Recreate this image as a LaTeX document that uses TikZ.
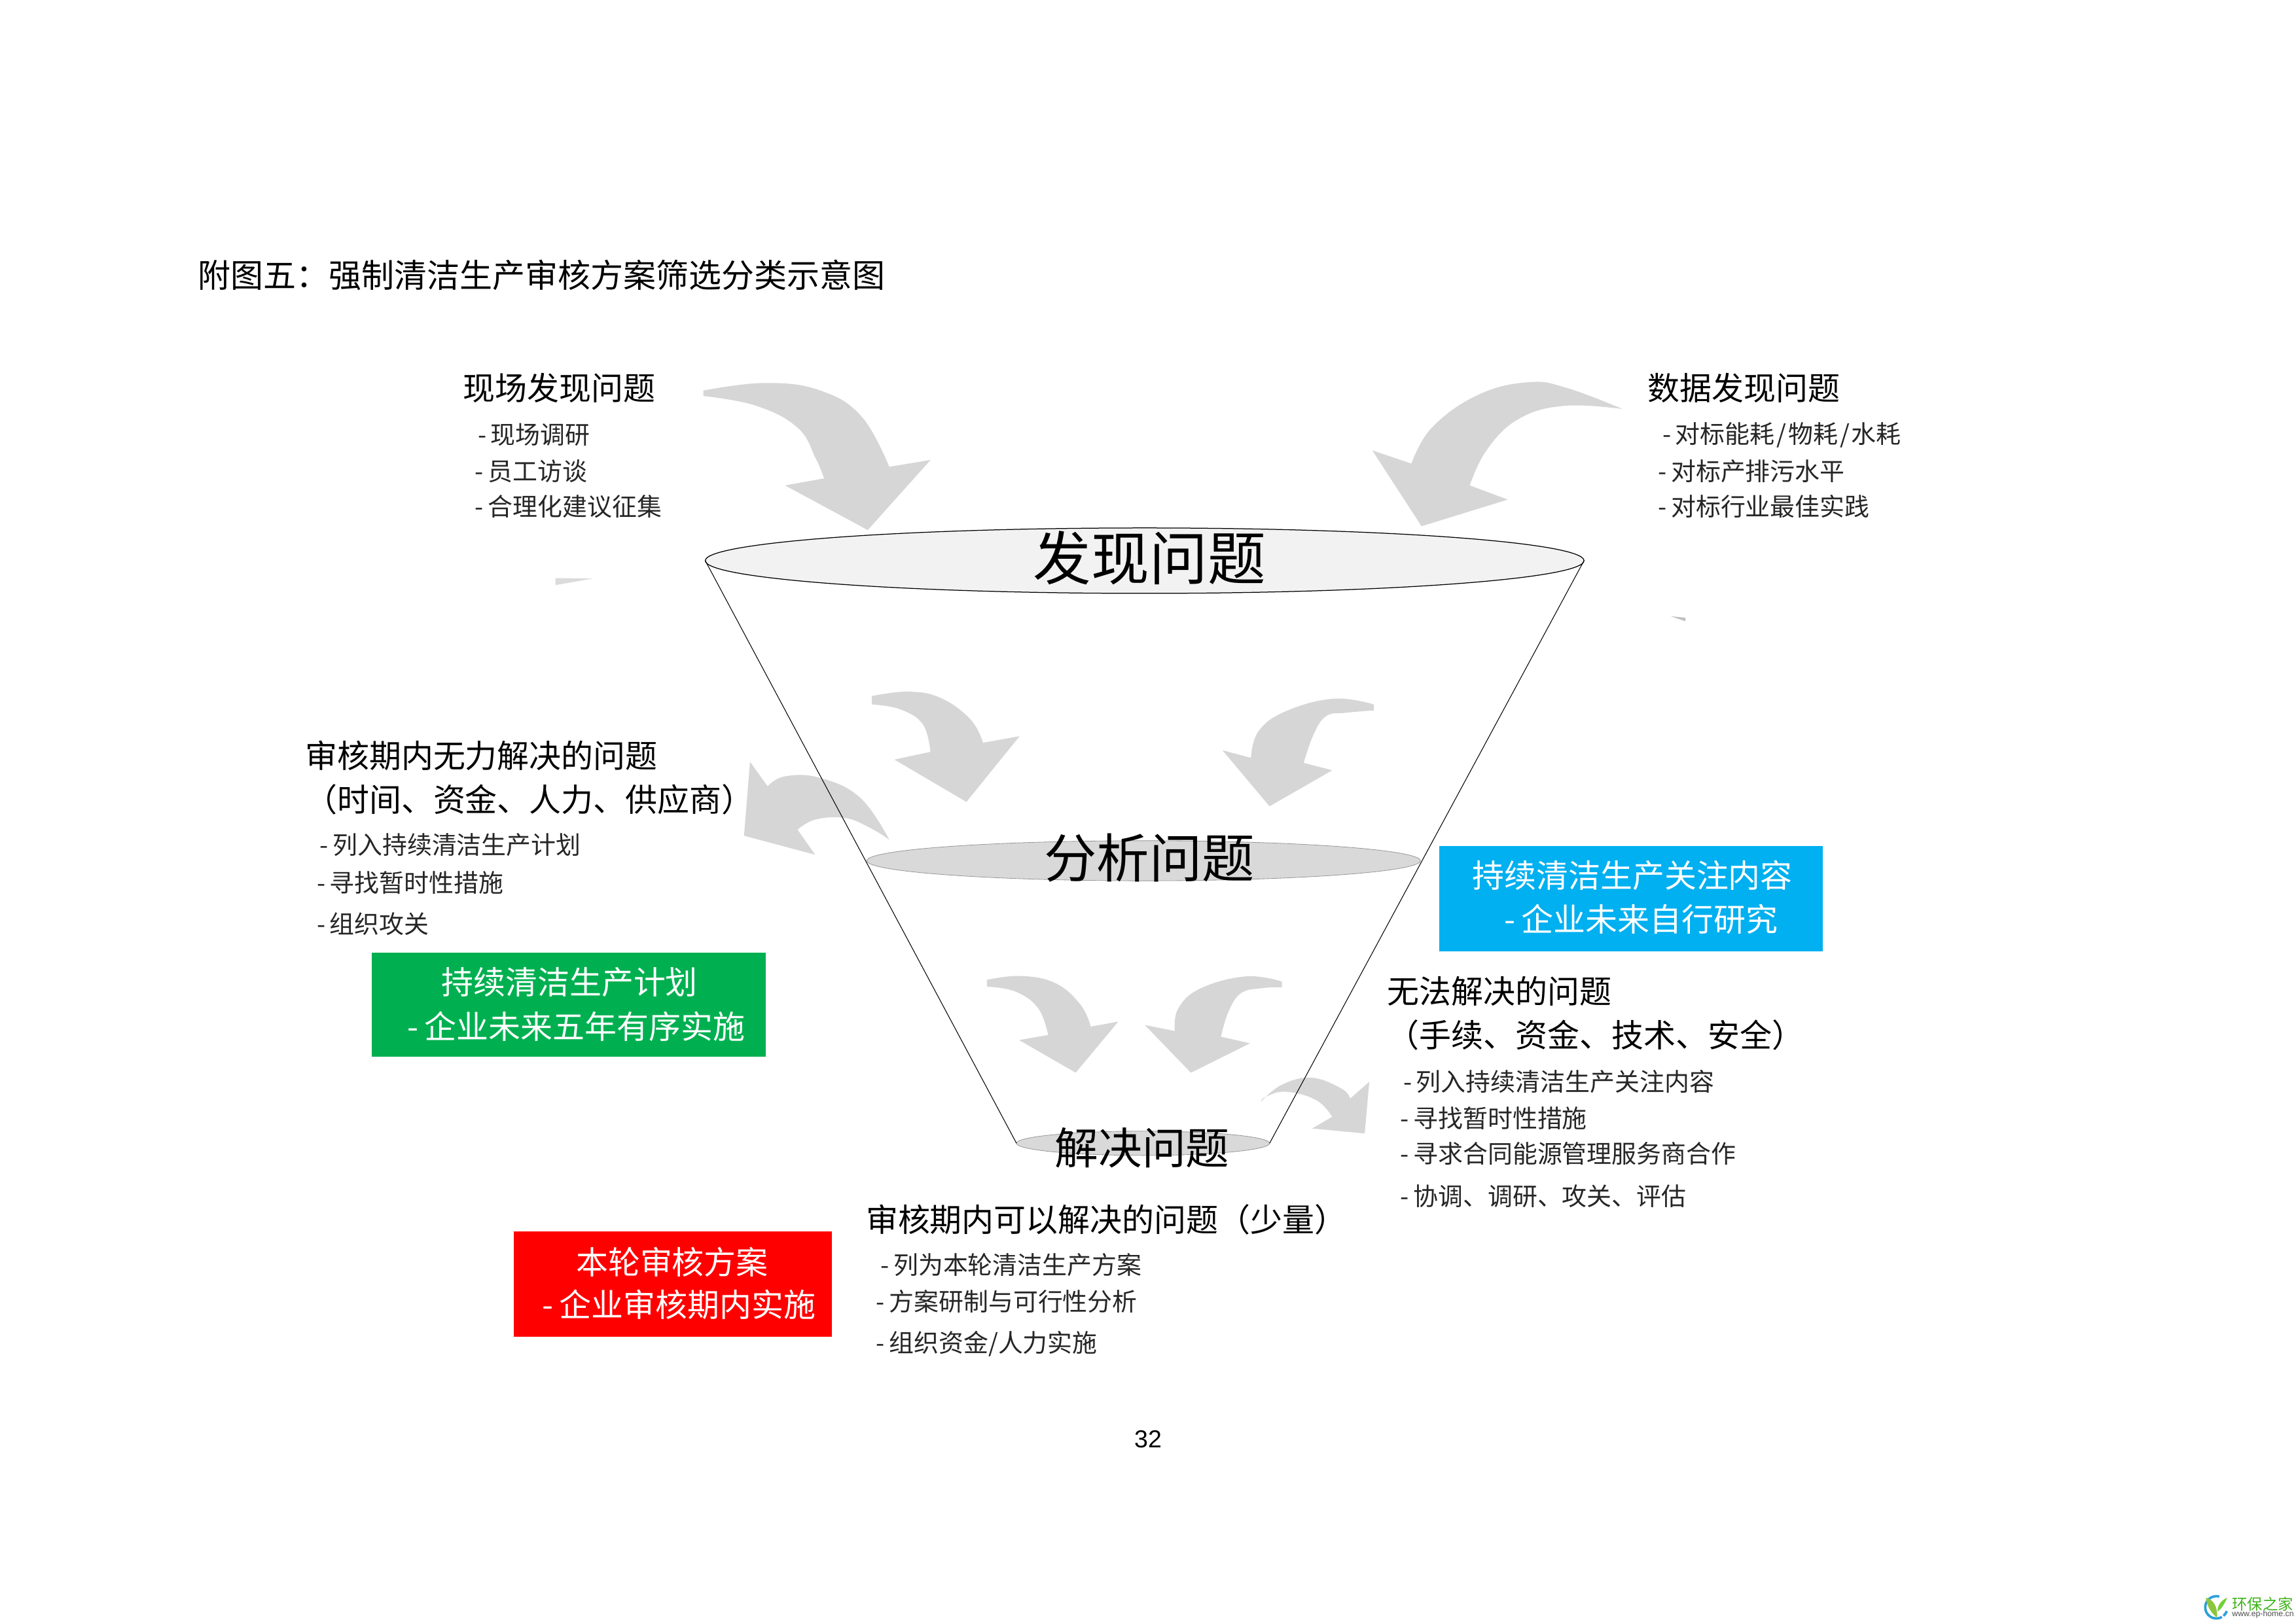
\documentclass[tikz,border=0pt]{standalone}
\usepackage{fontspec}
\setmainfont{Noto Sans CJK SC}
\newfontfamily\latinfont{Liberation Sans}
\usetikzlibrary{shapes.geometric}
\definecolor{arrowgray}{HTML}{D6D6D6}
\definecolor{boxblue}{HTML}{00B0F0}
\definecolor{boxgreen}{HTML}{00B050}
\definecolor{boxred}{HTML}{FF0000}
\definecolor{logogreen}{HTML}{3DB219}
\definecolor{logoblue}{HTML}{2E9FD8}
\definecolor{leafgreen}{HTML}{8CC63F}
\newcommand{\subdash}{-\kern1.6pt}
\newcommand{\boxdash}{-\kern2.2pt}
\tikzset{
  x=0.5369pt, y=-0.5369pt,
  txt/.style={anchor=west,inner sep=0pt,text=black},
  headtxt/.style={txt,font=\fontsize{11.75}{14}\selectfont},
  subtxt/.style={txt,font=\fontsize{9.1}{11}\selectfont,text=black!85},
  bigtxt/.style={anchor=center,inner sep=0pt,text=black},
  boxtxt/.style={anchor=west,inner sep=0pt,text=white,font=\fontsize{11.75}{14}\selectfont},
  curvearrow/.style={fill=arrowgray,draw=none},
  disc/.style={shape=ellipse,inner sep=0pt,outer sep=0pt},
  funnelside/.style={draw=black,line width=0.25pt},
}
\begin{document}
\begin{tikzpicture}
\useasboundingbox (0,0) rectangle (1568,1109);

% faint stray wedges
\fill[black!14] (379.3,394.9) -- (379.3,399.7) -- (405,395.2) -- cycle;
\fill[black!25] (1141,421) -- (1151,422) -- (1151,424.4) -- cycle;

% curved arrows
\fill[curvearrow] plot[smooth,tension=.7] coordinates {(480.3,266.8) (522.6,261.6) (560.3,266.8) (588.5,284.7) (607.3,318.9)} -- (635.5,314.2) -- (592.6,362.1) -- (536.1,331.6) -- (562.8,326.8) -- plot[smooth,tension=.7] coordinates {(562.8,326.8) (557,313) (544.6,292.1) (516.4,277.2) (480.3,270.5)} -- cycle;
\fill[curvearrow] plot[smooth,tension=.7] coordinates {(1108.1,279.4) (1070,265) (1043.8,261.1) (1009.3,269.8) (978,292) (963.9,316.7)} -- (937.2,307.7) -- (970.8,359.5) -- (1029.7,341.3) -- (1003.7,331.6) -- plot[smooth,tension=.7] coordinates {(1003.7,331.6) (1015.6,307) (1037.5,286) (1068.9,277.2) (1108.1,279.4)} -- cycle;
\fill[curvearrow] plot[smooth,tension=.7] coordinates {(595.4,475.5) (620,472.5) (642.2,476.7) (662.8,491.5) (671.3,507.4)} -- (696.3,502.9) -- (660,547.8) -- (610.8,518.9) -- (635.4,513.6) -- plot[smooth,tension=.7] coordinates {(635.4,513.6) (630.3,494.9) (614.9,484.6) (595.4,481.2)} -- cycle;
\fill[curvearrow] plot[smooth,tension=.7] coordinates {(938.2,481.2) (910.8,477.3) (878.3,485.8) (859.5,499.5) (854.3,517.7)} -- (834.8,512.5) -- (867,550.8) -- (909.8,526.2) -- (890.3,521.1) -- plot[smooth,tension=.7] coordinates {(890.3,521.1) (897.1,501.7) (905.7,489.2) (919.3,486.9) (938.2,485.3)} -- cycle;
\fill[curvearrow] plot[smooth,tension=.7] coordinates {(607.3,573.6) (587.5,545) (560.1,531.4) (536.2,530.3) (524.2,537.1)} -- (512.2,520.4) -- (508.1,570.9) -- (556.7,583.9) -- (544.7,566.8) -- plot[smooth,tension=.7] coordinates {(544.7,566.8) (556.7,559.9) (577.2,558.8) (594.3,565.6) (607.3,573.6)} -- cycle;
\fill[curvearrow] plot[smooth,tension=.7] coordinates {(674,669.4) (697,666.7) (720.9,671.7) (738,686.5) (744.9,701.3)} -- (763.7,697.9) -- (734.6,732.8) -- (696,710.5) -- (715.8,707) -- plot[smooth,tension=.7] coordinates {(715.8,707) (709,688.8) (693.5,677.4) (674,674)} -- cycle;
\fill[curvearrow] plot[smooth,tension=.7] coordinates {(875.5,670.5) (850.9,667) (820.1,675.1) (804.7,688.8) (802.3,704.3)} -- (781.8,700.2) -- (813.3,732.8) -- (853.7,712.7) -- (833.8,708.2) -- plot[smooth,tension=.7] coordinates {(833.8,708.2) (839,691) (847.5,678.5) (861.2,675.1) (875.5,674.4)} -- cycle;
\fill[curvearrow] plot[smooth,tension=.7] coordinates {(861.2,752.7) (874.9,741.3) (895.4,736.2) (915.9,743.5) (922.1,750.4)} -- (935.1,739) -- (932,774.3) -- (896.1,770.9) -- (909.8,762.9) -- plot[smooth,tension=.7] coordinates {(909.8,762.9) (898.8,751.5) (878.3,745.8) (864.6,749.2) (861.2,752.7)} -- cycle;

% funnel discs
\node[disc,fill=black!5,draw=black,line width=0.3pt,minimum width=322.2pt,minimum height=24pt] (discA) at (781.7,383) {};
\node[disc,fill=black!15,draw=black!40,line width=0.2pt,minimum width=203pt,minimum height=14.7pt] (discB) at (781,588) {};
\node[disc,fill=black!15,draw=black!40,line width=0.2pt,minimum width=92.8pt,minimum height=8.9pt] (discC) at (780.6,781) {};

% funnel sides
\draw[funnelside] (discA.west) -- (discC.west);
\draw[funnelside] (discA.east) -- (discC.east);

% disc captions
\node[bigtxt,font=\fontsize{21.3}{25}\selectfont] (capA) at (785,381) {发现问题};
\node[bigtxt,font=\fontsize{19.3}{23}\selectfont] (capB) at (785,586) {分析问题};
\node[bigtxt,font=\fontsize{16}{19}\selectfont] (capC) at (780,784) {解决问题};

% title and page number
\node[txt,font=\fontsize{12}{14}\selectfont] (title) at (135,188) {附图五：强制清洁生产审核方案筛选分类示意图};
\node[bigtxt,font=\latinfont\fontsize{9}{11}\selectfont] (page) at (784,983) {32};

% top left
\node[headtxt] (h1) at (316,265) {现场发现问题};
\node[subtxt] (s11) at (326,297) {\subdash 现场调研};
\node[subtxt] (s12) at (324,322) {\subdash 员工访谈};
\node[subtxt] (s13) at (324,346) {\subdash 合理化建议征集};

% top right
\node[headtxt] (h2) at (1125,265) {数据发现问题};
\node[subtxt] (s21) at (1135,297) {\subdash 对标能耗\kern0.7pt/\kern0.7pt物耗\kern0.7pt/\kern0.7pt水耗};
\node[subtxt] (s22) at (1132,322) {\subdash 对标产排污水平};
\node[subtxt] (s23) at (1132,346) {\subdash 对标行业最佳实践};

% left
\node[headtxt] (h3) at (208,516) {审核期内无力解决的问题};
\node[headtxt] (h3b) at (208,546) {（时间、资金、人力、供应商）};
\node[subtxt] (s31) at (218,577) {\subdash 列入持续清洁生产计划};
\node[subtxt] (s32) at (216,603) {\subdash 寻找暂时性措施};
\node[subtxt] (s33) at (216,631) {\subdash 组织攻关};

% green box
\fill[boxgreen] (254,651) rectangle (523,722);
\node[boxtxt] (g1) at (301,671) {持续清洁生产计划};
\node[boxtxt] (g2) at (278,701) {\boxdash 企业未来五年有序实施};

% blue box
\fill[boxblue] (983,578) rectangle (1245,650);
\node[boxtxt] (b1) at (1005,598) {持续清洁生产关注内容};
\node[boxtxt] (b2) at (1027,628) {\boxdash 企业未来自行研究};

% right
\node[headtxt] (h4) at (947,677) {无法解决的问题};
\node[headtxt] (h4b) at (947,707) {（手续、资金、技术、安全）};
\node[subtxt] (s41) at (958,739) {\subdash 列入持续清洁生产关注内容};
\node[subtxt] (s42) at (956,764) {\subdash 寻找暂时性措施};
\node[subtxt] (s43) at (956,788) {\subdash 寻求合同能源管理服务商合作};
\node[subtxt] (s44) at (956,817) {\subdash 协调、调研、攻关、评估};

% bottom
\node[headtxt] (h5) at (591,833) {审核期内可以解决的问题（少量）};
\node[subtxt] (s51) at (601,864) {\subdash 列为本轮清洁生产方案};
\node[subtxt] (s52) at (598,889) {\subdash 方案研制与可行性分析};
\node[subtxt] (s53) at (598,918) {\subdash 组织资金/人力实施};

% red box
\fill[boxred] (351,841) rectangle (568,913);
\node[boxtxt] (r1) at (393,862) {本轮审核方案};
\node[boxtxt] (r2) at (370,891) {\boxdash 企业审核期内实施};

% watermark
\coordinate (logoc) at (1513.6,1098);
\draw[logoblue,line width=0.9pt] (logoc) ++(-75:7.6) arc[start angle=-75,end angle=-300,radius=7.6];
\draw[logoblue,line width=0.9pt] (logoc) ++(20:7.6) arc[start angle=20,end angle=50,radius=7.6];
\fill[leafgreen] (1506.5,1091.5) .. controls (1511,1092) and (1515,1098) .. (1514,1105) .. controls (1510,1102) and (1507,1097) .. (1506.5,1091.5) -- cycle;
\fill[leafgreen!80!green] (1521,1091.5) .. controls (1519,1096) and (1517,1099) .. (1514.5,1101) .. controls (1514,1097) and (1517,1093) .. (1521,1091.5) -- cycle;
\node[anchor=west,inner sep=0pt,text=logogreen,font=\fontsize{5.6}{6}\selectfont] (wm1) at (1524,1096) {环保之家};
\node[anchor=west,inner sep=0pt,text=black!70,font=\latinfont\fontsize{2.95}{4}\selectfont] (wm2) at (1524,1103) {www.ep-home.cn};
\end{tikzpicture}
\end{document}
